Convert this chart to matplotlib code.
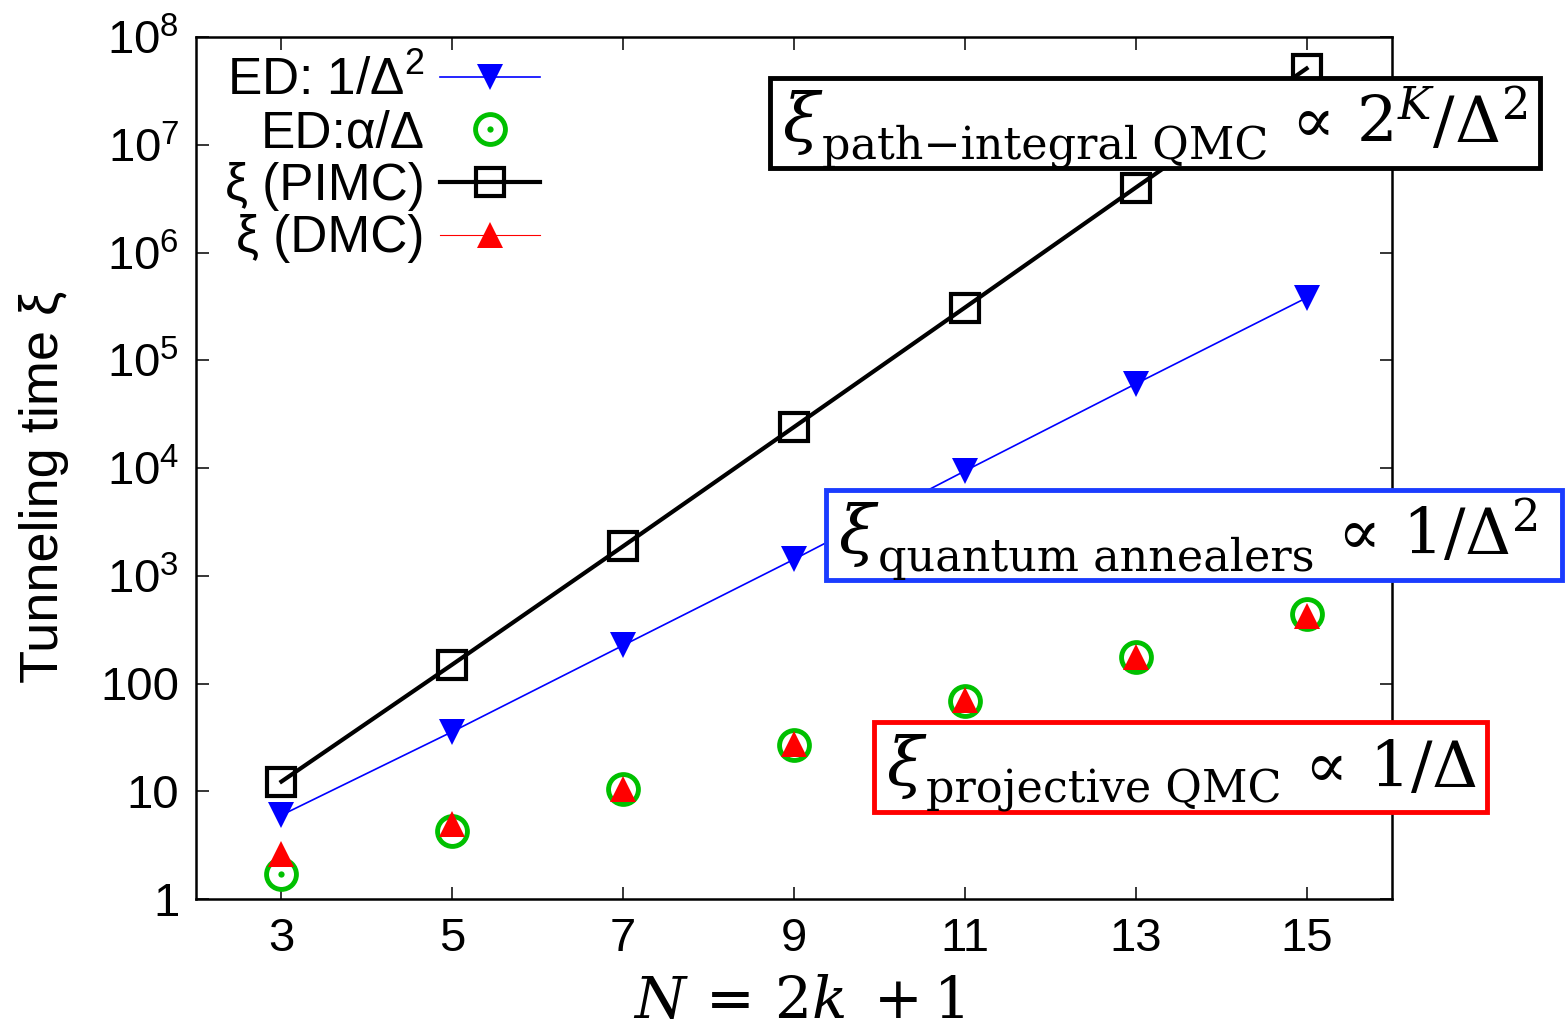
import matplotlib
matplotlib.use('Agg')
import matplotlib.pyplot as plt
from matplotlib.lines import Line2D
from matplotlib.legend_handler import HandlerTuple
from matplotlib.patches import Rectangle
from matplotlib.transforms import IdentityTransform

# ---------------- data ----------------
N = [3, 5, 7, 9, 11, 13, 15]
ed_inv_gap2 = [6.0, 35.7, 226, 1420, 9380, 60400, 3.8e5]      # ED: 1/Delta^2
ed_alpha_gap = [1.71, 4.3, 10.5, 27, 69.5, 175, 438]           # ED: alpha/Delta
xi_pimc = [12.3, 150, 1880, 24000, 3.08e5, 4.0e6, 5.1e7]       # xi (PIMC)
xi_dmc = [2.6, 5.0, 10.5, 27.5, 70, 175, 420]                  # xi (DMC)

xticks = [3, 5, 7, 9, 11, 13, 15]
yticks = [1, 10, 100, 1e3, 1e4, 1e5, 1e6, 1e7, 1e8]
ytick_labels = ['1', '10', '100', r'$10^{3}$', r'$10^{4}$', r'$10^{5}$',
                r'$10^{6}$', r'$10^{7}$', r'$10^{8}$']

legend_labels = [r'ED: 1/Δ$^{2}$', 'ED:α/Δ', 'ξ (PIMC)', 'ξ (DMC)']
xlabel = r'$N\,=\,2k\;+1$'
ylabel = 'Tunneling time ξ'

# ---------------- style ----------------
plt.rcParams['font.family'] = ['Liberation Sans', 'DejaVu Sans']
plt.rcParams['mathtext.fontset'] = 'custom'
plt.rcParams['mathtext.rm'] = 'Liberation Sans'
plt.rcParams['mathtext.it'] = 'Liberation Sans:italic'
plt.rcParams['mathtext.bf'] = 'Liberation Sans:bold'

BLUE = '#0000ff'
GREEN = '#00c000'
RED = '#ff0000'

W, H = 1565, 1028
fig = plt.figure(figsize=(W / 100, H / 100), dpi=100)
ax = fig.add_axes([196 / W, 1 - 899 / H, (1392 - 196) / W, (899 - 37) / H])

# ---------------- data marks ----------------
ax.plot(N, xi_pimc, color='black', lw=3, marker='s', ms=19.5, mfc='none',
        mec='black', mew=3, zorder=3)
ax.plot(N, ed_inv_gap2, color=BLUE, lw=1.2, marker='v', ms=19, mfc=BLUE,
        mew=0, zorder=3)
ax.plot(N, ed_alpha_gap, ls='none', marker='o', ms=21.5, mfc='none',
        mec=GREEN, mew=3.5, zorder=4)
ax.plot(N, ed_alpha_gap, ls='none', marker='o', ms=4.5, mfc=GREEN,
        mew=0, zorder=4)
ax.plot(N, xi_dmc, ls='none', marker='^', ms=19, mfc=RED, mew=0, zorder=5)

ax.set_yscale('log')
ax.set_xlim(2, 16)
ax.set_ylim(1, 1e8)
ax.set_xticks(xticks)
ax.set_xticklabels([str(v) for v in xticks])
ax.set_yticks(yticks)
ax.set_yticklabels(ytick_labels)
ax.minorticks_off()
ax.tick_params(direction='in', length=9, width=1.1, top=True, right=True,
               labelsize=34, pad=13)
ax.tick_params(axis='y', pad=12)
for sp in ax.spines.values():
    sp.set_linewidth(1.8)

# ---------------- legend ----------------
h_ed2 = Line2D([], [], color=BLUE, lw=1.2, marker='v', ms=19, mfc=BLUE, mew=0)
h_c = Line2D([], [], ls='none', marker='o', ms=21.5, mfc='none', mec=GREEN, mew=3.5)
h_d = Line2D([], [], ls='none', marker='o', ms=4.5, mfc=GREEN, mew=0)
h_pimc = Line2D([], [], color='black', lw=3, marker='s', ms=19.5, mfc='none',
                mec='black', mew=3)
h_dmc = Line2D([], [], color=RED, lw=0.8, marker='^', ms=19, mfc=RED, mew=0)
leg = ax.legend([h_ed2, (h_c, h_d), h_pimc, h_dmc], legend_labels,
                handler_map={tuple: HandlerTuple(ndivide=1)},
                loc='upper right', bbox_to_anchor=(540 / W, 1 - 56 / H),
                bbox_transform=fig.transFigure, frameon=False,
                markerfirst=False, fontsize=37, handlelength=1.95,
                handletextpad=0.3, labelspacing=0.07, borderpad=0,
                borderaxespad=0)

# ---------------- axis labels ----------------
fig.text(799, H - 1018, xlabel, transform=IdentityTransform(), ha='center',
         va='baseline', fontsize=42, math_fontfamily='dejavuserif')
fig.text(58, H - 487, ylabel, transform=IdentityTransform(), rotation=90,
         rotation_mode='anchor', ha='center', va='baseline', fontsize=39)

# ---------------- annotation boxes ----------------
renderer = fig.canvas.get_renderer()


def annot_box(x0, y0, x1, y1, color, sub, tail):
    fig.add_artist(Rectangle((x0, H - y1), x1 - x0, y1 - y0,
                             transform=IdentityTransform(), fc='white',
                             ec=color, lw=3.5, zorder=10))
    base_main = y0 + 65
    base_sub = y0 + 81
    x = x0 + 12
    t = fig.text(x, H - base_main + 2, r'$\xi$', transform=IdentityTransform(),
                 ha='left', va='baseline', fontsize=48,
                 math_fontfamily='dejavuserif', zorder=11)
    x = t.get_window_extent(renderer).x1 - 1
    t = fig.text(x, H - base_sub, sub, transform=IdentityTransform(),
                 ha='left', va='baseline', fontsize=32,
                 family='DejaVu Serif', zorder=11)
    x = t.get_window_extent(renderer).x1 + 10
    fig.text(x, H - base_main, tail, transform=IdentityTransform(),
             ha='left', va='baseline', fontsize=46,
             math_fontfamily='dejavuserif', zorder=11)


annot_box(770, 78, 1540, 168, 'black', 'path−integral QMC',
          r'$\propto\,2^{K}/\Delta^{2}$')
annot_box(826, 490, 1562, 580, '#1a3cff', 'quantum annealers',
          r'$\propto\,1/\Delta^{2}$')
annot_box(874, 722, 1487, 812, RED, 'projective QMC',
          r'$\propto\,1/\Delta$')

fig.savefig('out.png', dpi=100)
